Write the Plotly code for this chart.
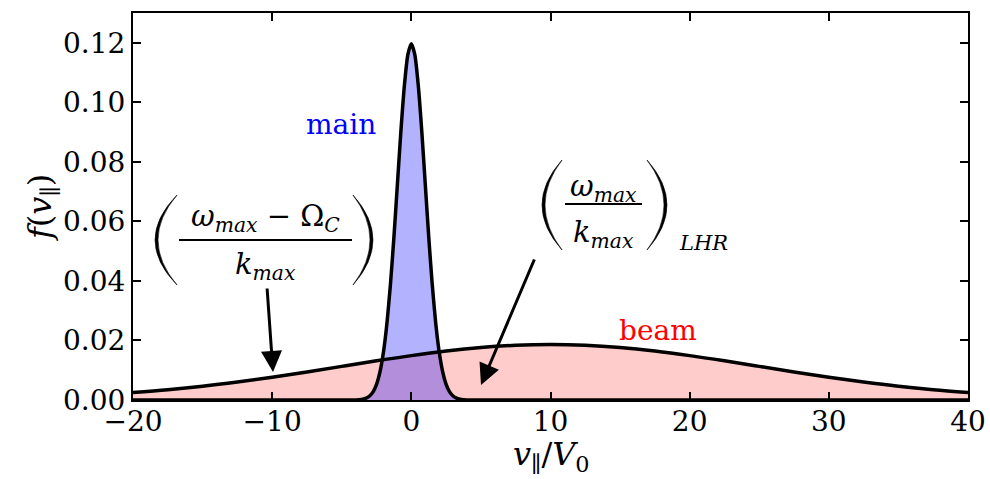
import plotly.graph_objects as go

# ---- data ----
beam_v = [-20, -17.5, -15, -12.5, -10, -7.5, -5, -2.5, 0, 2.5, 5, 7.5, 10,
          12.5, 15, 17.5, 20, 22.5, 25, 27.5, 30, 32.5, 35, 37.5, 40]
beam_f = [0.00252, 0.00347, 0.00464, 0.00605, 0.00765, 0.00943, 0.01129, 0.01316,
          0.01491, 0.01643, 0.01761, 0.01836, 0.01862, 0.01836, 0.01761, 0.01643,
          0.01491, 0.01316, 0.01129, 0.00943, 0.00765, 0.00605, 0.00464, 0.00347, 0.00252]

main_v = [-20, -5, -4, -3.75, -3.5, -3.25, -3, -2.75, -2.5, -2.25, -2, -1.75, -1.5,
          -1.25, -1, -0.75, -0.5, -0.25, 0, 0.25, 0.5, 0.75, 1, 1.25, 1.5, 1.75,
          2, 2.25, 2.5, 2.75, 3, 3.25, 3.5, 3.75, 4, 5, 40]
main_f = [0, 0, 0.00004, 0.000106, 0.000262, 0.000608, 0.00133, 0.00273, 0.00526,
          0.00953, 0.0162, 0.0259, 0.0389, 0.0548, 0.0726, 0.0903, 0.1056, 0.1160,
          0.1197, 0.1160, 0.1056, 0.0903, 0.0726, 0.0548, 0.0389, 0.0259, 0.0162,
          0.00953, 0.00526, 0.00273, 0.00133, 0.000608, 0.000262, 0.000106, 0.00004, 0, 0]

x_ticks = [-20, -10, 0, 10, 20, 30, 40]
y_ticks = [0.00, 0.02, 0.04, 0.06, 0.08, 0.10, 0.12]

FONT = "DejaVu Serif"

# pixel -> data helpers for decorations (layout only)
W, H = 990, 479
L, R, T, B = 133, 968, 13, 400
XMIN, XMAX, YMIN, YMAX = -20, 40, 0, 0.13
def dx(p):
    return XMIN + (p - L) * (XMAX - XMIN) / (R - L)
def dy(p):
    return YMIN + (B - p) * (YMAX - YMIN) / (B - T)

fig = go.Figure()
fig.add_trace(go.Scatter(x=beam_v, y=beam_f, mode="lines", line=dict(width=0, shape="spline"),
                         fill="tozeroy", fillcolor="rgba(255,0,0,0.2)", showlegend=False))
fig.add_trace(go.Scatter(x=main_v, y=main_f, mode="lines", line=dict(width=0, shape="spline"),
                         fill="tozeroy", fillcolor="rgba(0,0,255,0.3)", showlegend=False))
fig.add_trace(go.Scatter(x=beam_v, y=beam_f, mode="lines",
                         line=dict(color="black", width=3.5, shape="spline"), showlegend=False))
fig.add_trace(go.Scatter(x=main_v, y=main_f, mode="lines",
                         line=dict(color="black", width=3.5, shape="spline", smoothing=0.6),
                         showlegend=False))

shapes = []
def paren(xe, xm_out, xm_in, ytop, ybot):
    ym = (ytop + ybot) / 2
    p = (f"M {dx(xe)},{dy(ytop)} Q {dx(2*xm_out - xe)},{dy(ym)} {dx(xe)},{dy(ybot)} "
         f"Q {dx(2*xm_in - xe)},{dy(ym)} {dx(xe)},{dy(ytop)} Z")
    shapes.append(dict(type="path", path=p, xref="x", yref="y", fillcolor="black",
                       line=dict(color="black", width=0.6)))

def bar(x0, x1, y):
    shapes.append(dict(type="line", xref="x", yref="y", x0=dx(x0), x1=dx(x1), y0=dy(y), y1=dy(y),
                       line=dict(color="black", width=2)))

# left expression
paren(177, 155, 158, 195, 285)
paren(353, 373, 370, 195, 285)
bar(179, 352, 240)
# right expression
paren(562, 542, 545, 160, 250)
paren(647, 667, 664, 160, 250)
bar(565, 642, 204)

ann = []
def txt(s, px, py, size=30, color="black"):
    ann.append(dict(text=s, x=dx(px), y=dy(py), xref="x", yref="y", showarrow=False,
                    xanchor="center", yanchor="middle", font=dict(family=FONT, size=size, color=color)))

def ptxt(s, px, py, size=32, angle=0):
    ann.append(dict(text=s, x=(px - L) / (R - L), y=(B - py) / (B - T), xref="paper", yref="paper",
                    showarrow=False, xanchor="center", yanchor="middle", textangle=angle,
                    font=dict(family=FONT, size=size, color="black")))

txt("main", 341, 124, 28, "blue")
txt("beam", 658, 330, 28, "red")
txt("<i>ω</i><sub><i>max</i></sub> − Ω<sub><i>C</i></sub>", 265, 218, 29)
txt("<i>k</i><sub><i>max</i></sub>", 265, 266, 29)
txt("<i>ω</i><sub><i>max</i></sub>", 603, 188, 29)
txt("<i>k</i><sub><i>max</i></sub>", 603, 234, 29)
txt("<i>LHR</i>", 703, 243, 21)

# axis titles
ptxt("<i>v</i><sub>∥</sub>/<i>V</i><sub>0</sub>", 551, 456, 32)
ptxt("<i>f</i>(<i>v</i><sub>∥</sub>)", 42, 208, 32, -90)

def arrow(tx, ty, hx, hy):
    ann.append(dict(text="", x=dx(hx), y=dy(hy), ax=dx(tx), ay=dy(ty), xref="x", yref="y",
                    axref="x", ayref="y", showarrow=True, arrowhead=2, arrowsize=1.4,
                    arrowwidth=3, arrowcolor="black", standoff=0))

arrow(267, 287, 273, 372)
arrow(535, 258, 481, 385)

axis_common = dict(showline=True, linecolor="black", linewidth=2, mirror="ticks",
                   ticks="inside", ticklen=8, tickwidth=1.5, tickcolor="black",
                   showgrid=False, zeroline=False, automargin=False,
                   tickfont=dict(family=FONT, size=28, color="black"))

fig.update_layout(
    width=W, height=H,
    font=dict(family=FONT),
    margin=dict(l=L, r=W - R, t=T, b=H - B, autoexpand=False),
    plot_bgcolor="white", paper_bgcolor="white",
    xaxis=dict(range=[XMIN, XMAX], tickvals=x_ticks, ticklabelstandoff=-5,
               ticktext=[f"{v:g}".replace("-", "−") for v in x_ticks], **axis_common),
    yaxis=dict(range=[YMIN, YMAX], tickvals=y_ticks,
               ticktext=[f"{v:.2f}" for v in y_ticks], **axis_common),
    shapes=shapes, annotations=ann,
)

fig.write_html("out.html", config={"displayModeBar": False},
               post_script="document.body.style.margin='0';")
